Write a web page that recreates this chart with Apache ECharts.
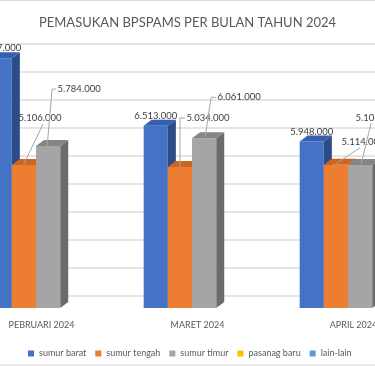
<!DOCTYPE html>
<html><head><meta charset="utf-8">
<script src="https://cdn.jsdelivr.net/npm/echarts@6/dist/echarts.min.js"></script>
<style>html,body{margin:0;padding:0;background:#fff}#c{width:375px;height:366px}</style>
</head><body><div id="c"></div>
<script>
// ---- data ----
const categories = ['PEBRUARI 2024', 'MARET 2024', 'APRIL 2024'];
const seriesNames = ['sumur barat', 'sumur tengah', 'sumur timur', 'pasanag baru', 'lain-lain'];
const sumurBarat  = [8917000, 6513000, 5948000];
const sumurTengah = [5106000, 5034000, 5114000];
const sumurTimur  = [5784000, 6061000, 5104000];
const pasanagBaru = [null, null, null];
const lainLain    = [null, null, null];
const yMin = 0, yMax = 9000000, yStep = 1000000;

// ---- styles (not data) ----
const FONT = 'Lato, "Open Sans", sans-serif';
const faceColors = [
  { front: '#4472C4', side: '#2C4C88', top: '#3560B0' },
  { front: '#ED7D31', side: '#B65E22', top: '#C9661F' },
  { front: '#A5A5A5', side: '#6B6B6B', top: '#858585' },
  { front: '#FFC000', side: '#B38600', top: '#D9A300' },
  { front: '#5B9BD5', side: '#3F6D96', top: '#4D84B5' }
];
// label placement relative to the bar's front-top centre: text centre + leader polyline
const labelPlace = [
  [ {t:[0,-10]}, {t:[0,-10]}, {t:[0,-10]} ],
  [ {t:[16,-47], l:[[0,-1],[19,-41]]}, {t:[28,-49], l:[[0,0],[0,-49],[5,-49]]}, {t:[27,-23], l:[[0,-1],[24,-17]]} ],
  [ {t:[31,-57], l:[[-1,0],[4,-57],[8,-57]]}, {t:[35,-41], l:[[1,-1],[7,-41],[12,-41]]}, {t:[17,-47], l:[[1,-1],[11,-42]]} ],
  [ {}, {}, {} ],
  [ {}, {}, {} ]
];
const DX = 8, DY = 6;

function fmt(v) { return String(v).replace(/\B(?=(\d{3})+(?!\d))/g, '.'); }

function makeRender(si) {
  return function (params, api) {
    const cat = api.value(0), val = api.value(1);
    if (val == null || isNaN(val)) return null;
    const base = api.coord([cat, 0]);
    const topP = api.coord([cat, val]);
    const band = api.size([1, 0])[0];
    const w = band * 0.155;
    const x = base[0] - band * 0.345 + si * w;
    const yb = base[1], yt = topP[1];
    const c = faceColors[si];
    const kids = [
      { type: 'polygon', shape: { points: [[x + w, yt], [x + w + DX, yt - DY], [x + w + DX, yb - DY], [x + w, yb]] }, style: { fill: c.side } },
      { type: 'rect', shape: { x: x, y: yt, width: w, height: yb - yt }, style: { fill: c.front } },
      { type: 'polygon', shape: { points: [[x, yt], [x + DX, yt - DY], [x + w + DX, yt - DY], [x + w, yt]] }, style: { fill: c.top } }
    ];
    const lp = labelPlace[si][params.dataIndex] || {};
    const cx = x + w / 2;
    if (lp.l) {
      kids.push({ type: 'polyline', shape: { points: lp.l.map(p => [cx + p[0], yt + p[1]]) },
        style: { stroke: '#A6A6A6', lineWidth: 1, fill: null } });
    }
    if (lp.t) {
      kids.push({ type: 'text', x: cx + lp.t[0], y: yt + lp.t[1],
        style: { text: fmt(val), fill: '#404040', font: '9.5px ' + FONT, align: 'center', verticalAlign: 'middle' } });
    }
    return { type: 'group', children: kids };
  };
}

const seriesData = [sumurBarat, sumurTengah, sumurTimur, pasanagBaru, lainLain];
const series = seriesData.map((arr, si) => ({
  name: seriesNames[si],
  type: 'custom',
  xAxisIndex: 0, yAxisIndex: 0,
  renderItem: makeRender(si),
  encode: { x: 0, y: 1 },
  itemStyle: { color: faceColors[si].front },
  data: categories.map((c, i) => [i, arr[i]]),
  clip: false,
  z: 2 + si
}));

const chart = echarts.init(document.getElementById('c'), null, { renderer: 'canvas' });
chart.setOption({
  animation: false,
  backgroundColor: '#fff',
  title: {
    text: 'PEMASUKAN BPSPAMS PER BULAN TAHUN 2024', left: 'center', top: 11,
    textStyle: { fontFamily: FONT, fontSize: 13, fontWeight: 'normal', color: '#595959' }
  },
  legend: {
    data: seriesNames, left: 23, top: 344, width: 400, icon: 'rect', itemWidth: 6, itemHeight: 6, itemGap: 9,
    textStyle: { fontFamily: FONT, fontSize: 9, color: '#595959' }
  },
  grid: [
    { left: -36.5, right: -56.5, top: 56, bottom: 58, outerBoundsMode: 'none', containLabel: false },
    { left: 0, right: 0, top: 44, bottom: 70, outerBoundsMode: 'none', containLabel: false }
  ],
  xAxis: [
    { type: 'category', gridIndex: 0, data: categories, axisLine: { show: false }, axisTick: { show: false },
      axisLabel: { margin: 13, fontFamily: FONT, fontSize: 9, color: '#595959', interval: 0 } },
    { type: 'category', gridIndex: 1, data: categories, show: false }
  ],
  yAxis: [
    { type: 'value', gridIndex: 0, min: yMin, max: yMax, interval: yStep, show: false, splitLine: { show: false } },
    { type: 'value', gridIndex: 1, min: yMin, max: yMax, interval: yStep, axisLine: { show: false }, axisTick: { show: false },
      axisLabel: { show: false }, splitLine: { lineStyle: { color: '#DCDCDC', width: 1.5 } } }
  ],
  graphic: [
    { type: 'line', shape: { x1: 0, y1: 0.5, x2: 375, y2: 0.5 }, style: { stroke: '#D9D9D9', lineWidth: 1 } },
    { type: 'line', shape: { x1: 0, y1: 365, x2: 375, y2: 365 }, style: { stroke: '#D9D9D9', lineWidth: 1 } }
  ],
  series: series
});
</script></body></html>
